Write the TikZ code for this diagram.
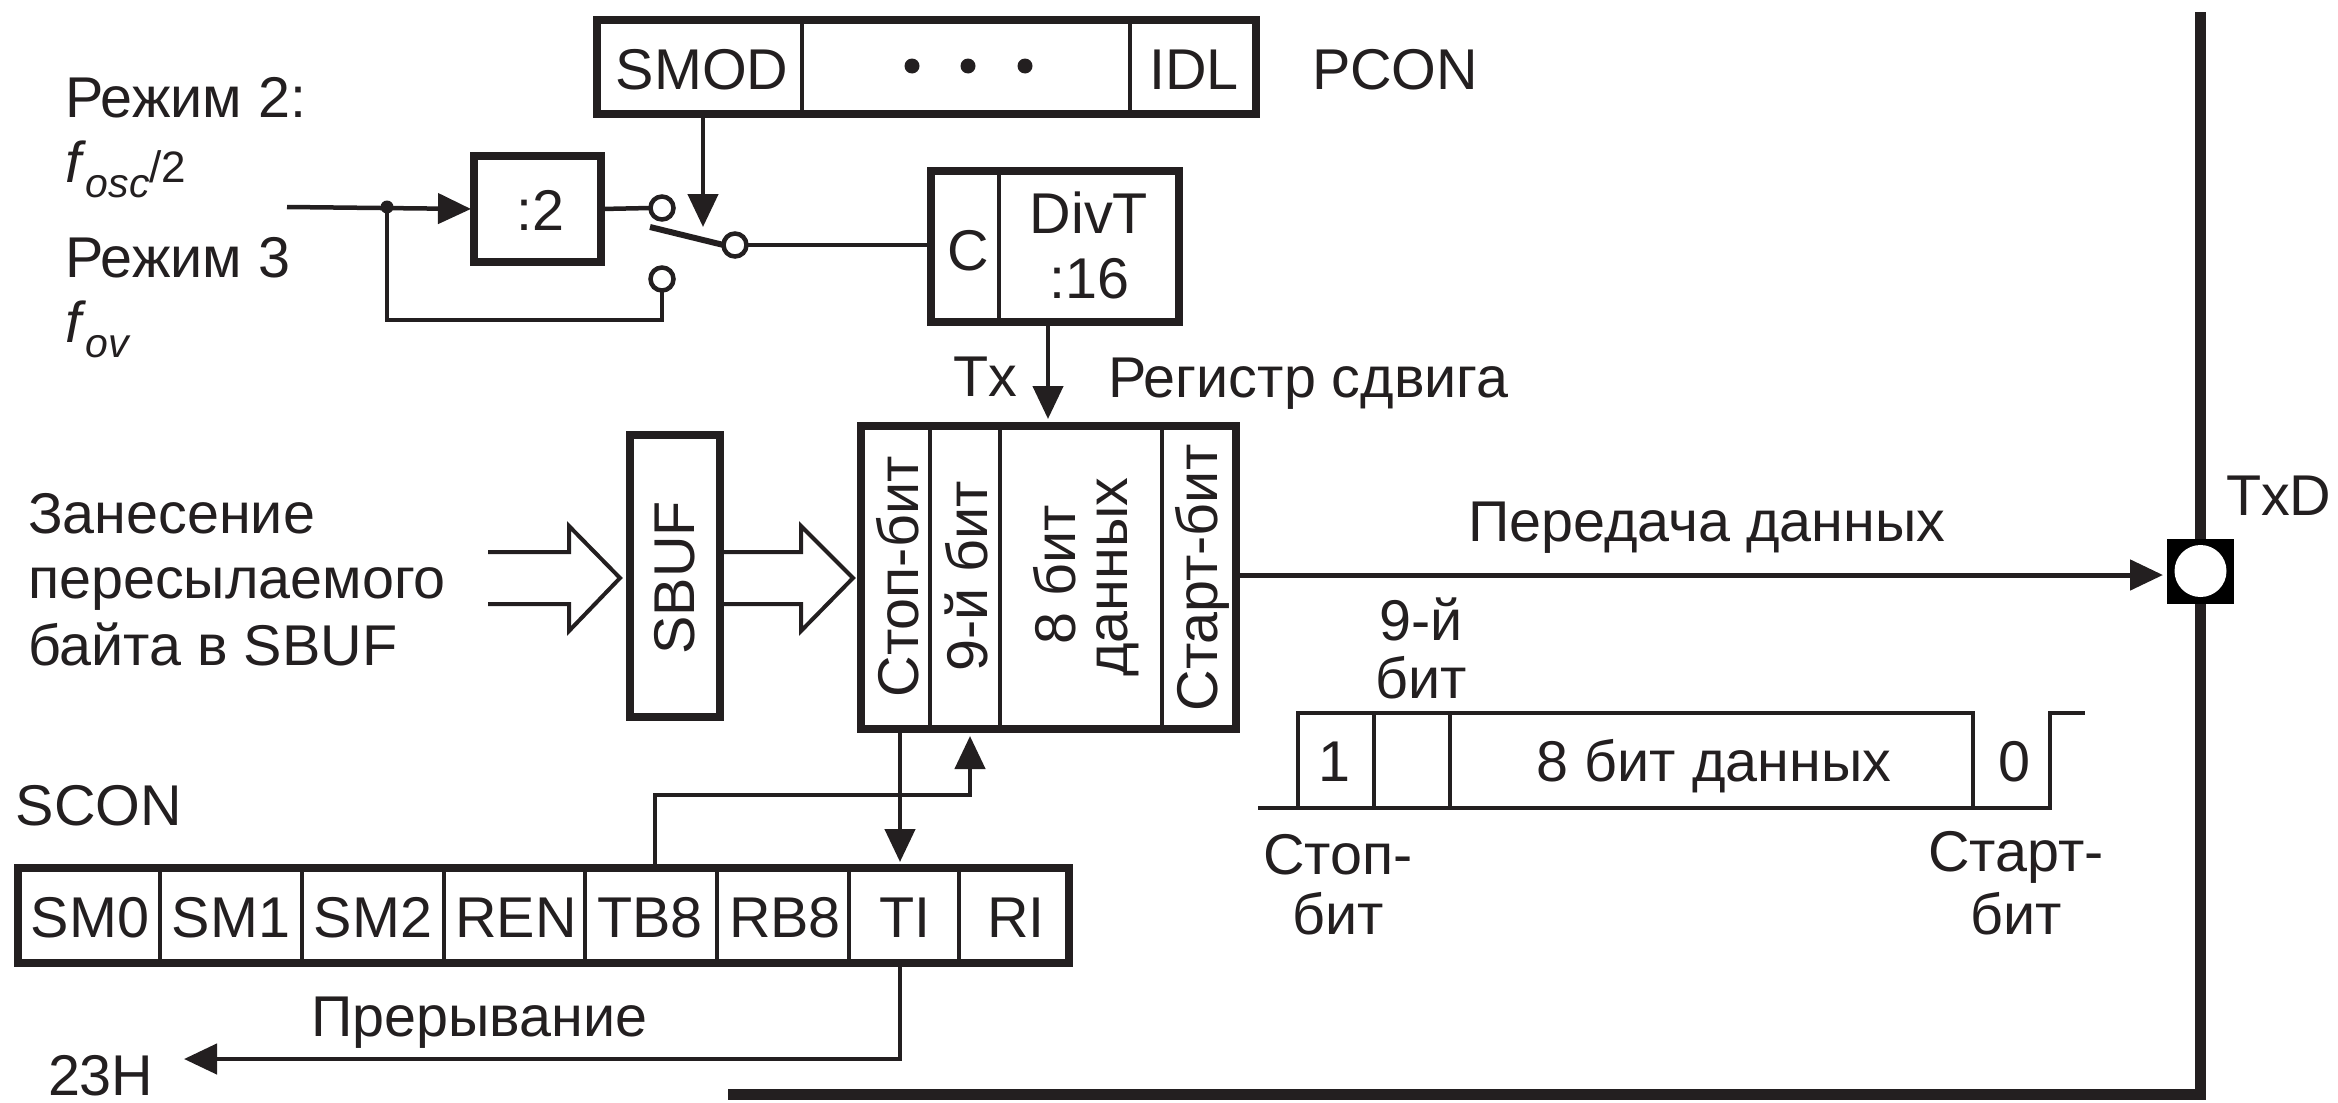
\documentclass[tikz,border=0pt]{standalone}
\usepackage{fontspec}
\setmainfont{Liberation Sans}
\usetikzlibrary{arrows.meta,calc}
\definecolor{ink}{HTML}{231F20}
\newcommand{\fs}[1]{\fontsize{#1}{#1}\selectfont}
% outer extents: name, x1, y1, x2, y2
\newcommand{\regbox}[5]{%
  \pgfmathsetmacro{\rw}{#4-#2-8}\pgfmathsetmacro{\rh}{#5-#3-8}%
  \node[boxframe,minimum width=\rw pt,minimum height=\rh pt] (#1) at ({(#2+#4)/2},{(#3+#5)/2}) {};
}
\newcommand{\fsub}[2]{\textit{f}\raisebox{-15pt}{\fs{41}\textit{#1}}#2}
\tikzset{
  x=1pt,y=-1pt,
  every node/.style={inner sep=0pt,outer sep=0pt,text=ink,font=\fs{57.5}},
  boxframe/.style={draw=ink,line width=8pt,rectangle,line join=miter},
  wire/.style={draw=ink,line width=4.5pt},
  ln/.style={draw=ink,line width=4pt},
  arr/.style={draw=ink,line width=4.5pt,-{Triangle[length=33pt,width=30pt]}},
  hollow/.style={draw=ink,line width=4pt,line join=miter},
  lab/.style={anchor=base},
  labw/.style={anchor=base west},
  vert/.style={rotate=90,anchor=base},
  term/.style={circle,draw=ink,line width=4.5pt,fill=white,minimum size=23pt},
}
\begin{document}
\begin{tikzpicture}
\useasboundingbox (0,0) rectangle (2338,1103);
% bus and port
\draw[draw=ink,line width=11pt,line join=miter] (728,1094) -| (2200,12);
\node[rectangle,fill=black,minimum width=67pt,minimum height=65pt] (port) at (2200.5,571.5) {};
\node[circle,fill=white,minimum size=52pt] (porth) at (2200.5,571) {};
\node[labw] (txd) at (2226,515) {TxD};
% PCON
\regbox{pcon}{593}{16}{1260}{118}
\draw[ln] (802,20) -- (802,114);
\draw[ln] (1130,20) -- (1130,114);
\node[lab] (smod) at (702,89) {SMOD};
\node[lab] (idl) at (1194,89) {IDL};
\node[labw] (pconl) at (1312,89) {PCON};
\foreach \n/\x in {d1/912,d2/968,d3/1025}
  \node[circle,fill=ink,minimum size=15pt] (\n) at (\x,66) {};
% Mode labels
\node[labw] (m2) at (65,117) {Режим 2:};
\node[labw] (fosc) at (65,182) {\fsub{osc}{\fs{44}/2}};
\node[labw] (m3) at (65,277) {Режим 3};
\node[labw] (fov) at (65,342) {\fsub{ov}{}};
% divider :2
\regbox{divb}{470}{152}{605}{266}
\node[lab] (divt) at (540,230) {:2};
\coordinate (inp) at (287,207);
\node[circle,fill=ink,minimum size=13pt] (junc) at (387,207) {};
\node[term] (swa) at (662,208) {};
\node[term] (swb) at (662,279) {};
\node[term] (swc) at (735,245) {};
\coordinate (swfree) at (650,227);
\coordinate (swtip) at (703,227);
\draw[arr,shorten >=3pt] (inp) -- (divb.west);
\draw[wire] (divb.east) -- (swa.west);
\draw[wire] (junc.center) |- (swb |- 0,320) -- (swb.south);
\draw[draw=ink,line width=6pt] (swfree) -- (swc.west);
% C / DivT
\regbox{cdiv}{927}{167}{1183}{326}
\draw[ln] (999,170) -- (999,324);
\node[lab] (cc) at (968.5,270) {C};
\node[lab] (divtt) at (1089,233) {DivT};
\node[lab] (d16) at (1089,298) {:16};
\draw[wire] (swc.east) -- (swc -| cdiv.west);
\draw[arr] (swtip |- pcon.south) -- (swtip);
% Tx and shift register
\node[lab] (tx) at (985,396) {Tx};
\node[labw] (shreg) at (1108,397) {Регистр сдвига};
\regbox{sreg}{857}{422}{1240}{733}
\draw[ln] (930,424) -- (930,731);
\draw[ln] (1000,424) -- (1000,731);
\draw[ln] (1162,424) -- (1162,731);
\node[vert] (stopv) at (918,577) {Стоп-бит};
\node[vert] (ninev) at (987,576) {9-й бит};
\node[vert] (eightv) at (1075,575) {8 бит};
\node[vert] (datav) at (1127,577) {данных};
\node[vert] (startv) at (1217,578) {Старт-бит};
\coordinate (cx) at (1048,0);
\draw[arr,shorten >=7pt] (cx |- cdiv.south) -- (cx |- sreg.north);
% SBUF
\regbox{sbuf}{626}{431}{724}{721}
\node[vert] (sbuft) at (694,578) {SBUF};
\node[labw] (t1) at (28,533) {Занесение};
\node[labw] (t2) at (28,598) {пересылаемого};
\node[labw] (t3) at (28,665) {байта в SBUF};
\draw[hollow] (488,552) -- (569,552) -- (569,526) -- (620,578) -- (569,631) -- (569,604) -- (488,604);
\draw[hollow] (sbuf.east |- 0,552) -- (801,552) -- (801,526) -- (853,578) -- (801,631) -- (801,604) -- (sbuf.east |- 0,604);
% SCON
\node[labw] (scon) at (16,825) {SCON};
\regbox{sconb}{14}{864}{1073}{967}
\foreach \x in {160,302,444,585,717,849,959} \draw[ln] (\x,866) -- (\x,965);
\foreach \n/\t/\x in {sm0/SM0/90,sm1/SM1/231,sm2/SM2/373,ren/REN/516,tb8/TB8/650,rb8/RB8/785,ti/TI/905,ri/RI/1016}
  \node[lab] (\n) at (\x,937) {\t};
\coordinate (tix) at (900,0);
\coordinate (tbx) at (655,0);
\coordinate (nix) at (970,0);
\draw[arr,shorten >=6pt] (tix |- sreg.south) -- (tix |- sconb.north);
\draw[arr,shorten >=7pt] (tbx |- sconb.north) |- (nix |- 0,795) -- (nix |- sreg.south);
\draw[arr] (tix |- sconb.south) |- (184,1059);
\node[labw] (intr) at (311,1036) {Прерывание};
\node[labw] (h23) at (48,1095) {23H};
% data arrow
\draw[draw=ink,line width=5pt,-{Triangle[length=33pt,width=30pt]}] (sreg.east |- 0,575) -- (2163,575);
\node[labw] (tdata) at (1468,541) {Передача данных};
% waveform
\draw[wire,line join=miter] (1258,808) -- (2050,808) -- (2050,713) -- (2085,713);
\draw[wire,line join=miter] (1298,808) -- (1298,713) -- (1973,713) -- (1973,808);
\draw[wire] (1374,713) -- (1374,808);
\draw[wire] (1450,713) -- (1450,808);
\node[lab] (w1) at (1334,781) {1};
\node[lab] (w8) at (1714,781) {8 бит данных};
\node[lab] (w0) at (2014,781) {0};
\node[lab] (w9a) at (1421,640) {9-й};
\node[lab] (w9b) at (1421,698) {бит};
\node[lab] (wsa) at (1338,874) {Стоп-};
\node[lab] (wsb) at (1338,934) {бит};
\node[lab] (wra) at (2016,871) {Старт-};
\node[lab] (wrb) at (2016,934) {бит};
\end{tikzpicture}
\end{document}
